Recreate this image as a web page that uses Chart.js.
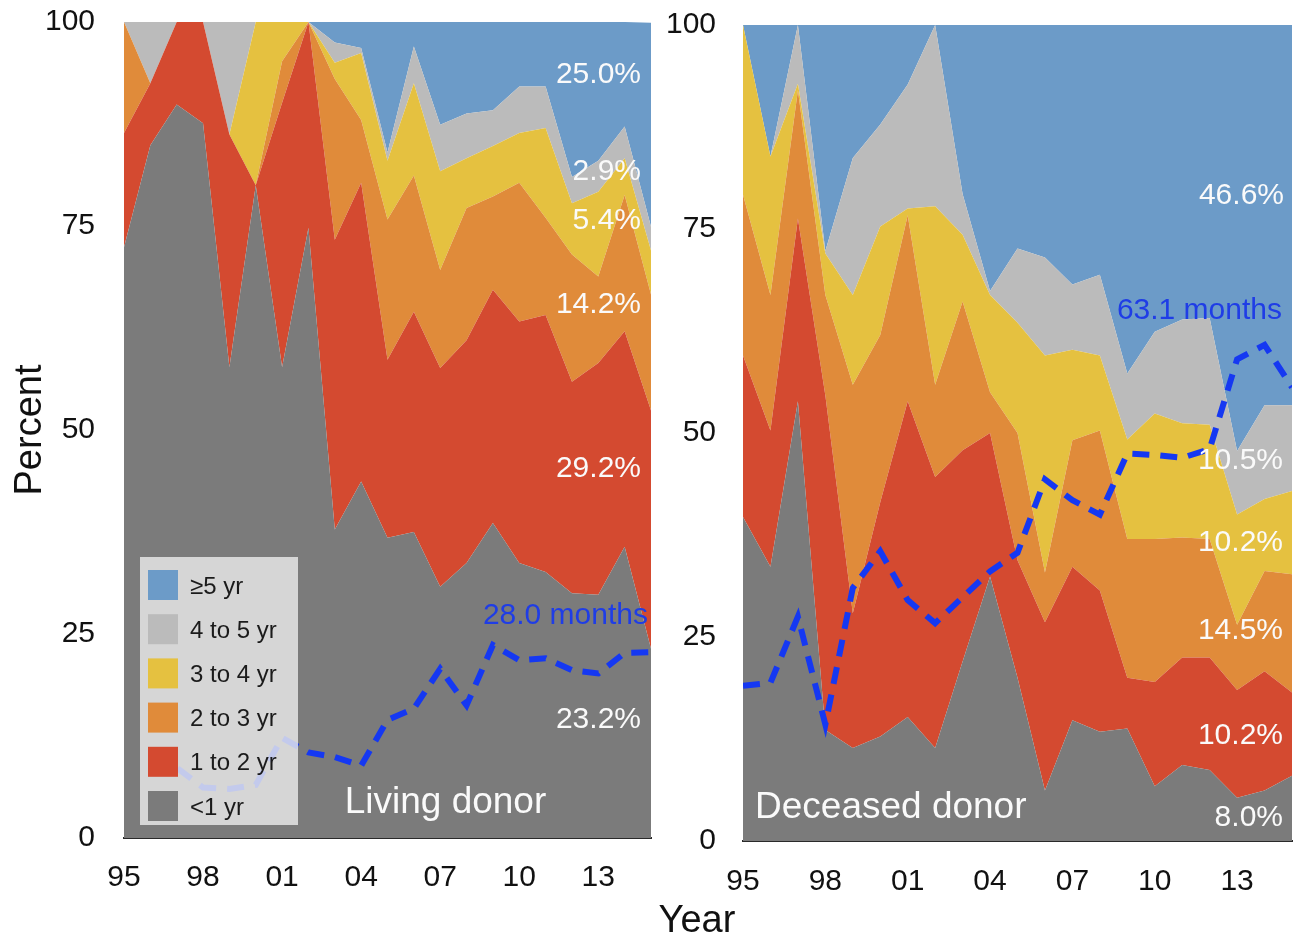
<!DOCTYPE html>
<html>
<head>
<meta charset="utf-8">
<title>Time on waiting list — living and deceased donor</title>
<script src="https://cdn.jsdelivr.net/npm/chart.js@4.4.1/dist/chart.umd.min.js"></script>
<style>
  html, body { margin: 0; padding: 0; background: #fff; }
  body { width: 1297px; height: 945px; position: relative; overflow: hidden;
         font-family: "Liberation Sans", Arial, sans-serif; }
  .panel { position: absolute; top: 0; height: 945px; }
  #leftPanel { left: 0; width: 655px; }
  #rightPanel { left: 655px; width: 642px; }
  #yearTitle { position: absolute; left: 597px; width: 200px; top: 900px; text-align: center;
               font-size: 38px; line-height: 38px; color: #111; }
</style>
</head>
<body>
<div class="panel" id="leftPanel"><canvas id="living" width="655" height="945"></canvas></div>
<div class="panel" id="rightPanel"><canvas id="deceased" width="642" height="945"></canvas></div>
<div id="yearTitle">Year</div>

<script>
// ---- data -------------------------------------------------------------
const years = [1995, 1996, 1997, 1998, 1999, 2000, 2001, 2002, 2003, 2004, 2005,
               2006, 2007, 2008, 2009, 2010, 2011, 2012, 2013, 2014, 2015];
const tickYears  = [1995, 1998, 2001, 2004, 2007, 2010, 2013];
const tickLabels = ['95', '98', '01', '04', '07', '10', '13'];
const yTicks = [0, 25, 50, 75, 100];
const durationLabels = ['<1 yr', '1 to 2 yr', '2 to 3 yr', '3 to 4 yr', '4 to 5 yr', '\u22655 yr'];

// Living donor: percent of patients by time on list
const livingLt1   = [72.4, 84.9, 89.9, 87.6, 57.7, 80.0, 57.7, 74.8, 37.8, 43.7, 36.8, 37.5, 30.8, 33.7, 38.6, 33.7, 32.6, 30.0, 29.8, 35.7, 23.2];
const living1to2  = [14.0, 7.6, 10.1, 12.4, 28.5, 0.0, 32.4, 25.2, 35.5, 36.6, 21.8, 27.0, 26.8, 27.3, 28.6, 29.6, 31.5, 25.9, 28.4, 26.4, 29.2];
const living2to3  = [13.6, 0.0, 0.0, 0.0, 0.0, 0.0, 5.1, 0.0, 19.7, 7.7, 17.2, 16.7, 12.0, 16.2, 11.4, 17.0, 11.9, 15.6, 10.6, 16.7, 14.2];
const living3to4  = [0.0, 0.0, 0.0, 0.0, 0.0, 20.0, 4.8, 0.0, 2.0, 8.2, 7.2, 11.3, 12.1, 6.1, 6.2, 6.1, 11.0, 6.3, 10.4, 4.5, 5.4];
const living4to5  = [0.0, 7.5, 0.0, 0.0, 13.8, 0.0, 0.0, 0.0, 2.5, 0.6, 1.0, 4.5, 5.7, 5.5, 4.4, 5.7, 5.1, 3.2, 3.8, 3.9, 2.9];
const living5plus = [0.0, 0.0, 0.0, 0.0, 0.0, 0.0, 0.0, 0.0, 2.5, 3.2, 16.0, 3.0, 12.6, 11.2, 10.8, 7.9, 7.9, 19.0, 17.0, 12.8, 25.0];
// Living donor: median time on list, months
const livingMonths = [null, 11.4, 10.6, 7.6, 7.4, 8.0, 15.1, 12.9, 12.2, 10.9, 17.8, 19.5, 25.5, 20.0, 29.1, 26.8, 27.1, 25.3, 24.8, 27.9, 28.0];

// Deceased donor: percent of patients by time on list
const deceasedLt1   = [39.7, 33.6, 53.9, 13.6, 11.4, 12.8, 15.2, 11.4, 22.0, 32.4, 20.0, 6.2, 14.8, 13.4, 13.8, 6.7, 9.3, 8.7, 5.3, 6.2, 8.0];
const deceased1to2  = [19.8, 16.7, 22.4, 41.0, 16.5, 28.7, 38.7, 33.2, 25.9, 17.6, 14.4, 20.6, 18.8, 17.3, 6.2, 12.8, 13.2, 13.8, 13.2, 14.6, 10.2];
const deceased2to3  = [19.7, 16.6, 15.7, 12.3, 28.0, 20.5, 22.8, 11.3, 18.2, 5.0, 15.6, 6.1, 15.5, 19.6, 17.0, 17.5, 14.7, 14.5, 8.0, 12.3, 14.5];
const deceased3to4  = [20.8, 17.0, 0.8, 5.1, 11.0, 13.3, 0.8, 21.9, 8.2, 11.9, 13.5, 26.6, 11.1, 9.2, 12.2, 15.4, 14.0, 14.0, 13.5, 8.8, 10.2];
const deceased4to5  = [0.0, 0.0, 7.2, 0.3, 16.8, 12.5, 15.2, 22.2, 5.0, 0.5, 9.1, 12.0, 8.0, 9.9, 8.1, 10.0, 12.7, 13.1, 7.8, 11.5, 10.5];
const deceased5plus = [0.0, 16.1, 0.0, 27.7, 16.3, 12.2, 7.3, 0.0, 20.7, 32.6, 27.4, 28.5, 31.8, 30.6, 42.7, 37.6, 36.1, 35.9, 52.2, 46.6, 46.6];
// Deceased donor: median time on list, months
const deceasedMonths = [21.6, 22.0, 31.2, 16.2, 35.2, 40.3, 33.5, 30.3, 33.9, 37.5, 40.1, 50.3, 47.4, 45.4, 53.9, 53.7, 53.3, 54.5, 67.0, 69.0, 63.1];

// ---- styling ----------------------------------------------------------
const FONT = '"Liberation Sans", Arial, sans-serif';
const bandColors = ['#7b7b7b', '#d44a30', '#e08b3a', '#e5c140', '#bbbbbb', '#6c9bc8'];
const lineColor = '#1538f2';
const monthsTextColor = '#1f3de6';

const last = arr => arr[arr.length - 1];
const pct = arr => last(arr).toFixed(1) + '%';

// Text overlays and the in-plot legend
const panelText = {
  id: 'panelText',
  afterDatasetsDraw(chart, args, opts) {
    const { ctx, chartArea, scales } = chart;
    ctx.save();
    for (const t of opts.items || []) {
      ctx.font = `${t.size}px ${FONT}`;
      ctx.fillStyle = t.color;
      ctx.textAlign = t.align;
      ctx.textBaseline = 'alphabetic';
      let x;
      if (t.xValue !== undefined) x = scales.x.getPixelForValue(t.xValue);
      else if (t.align === 'right') x = chartArea.right - t.inset;
      else x = chartArea.left + t.inset;
      const y = scales.y.getPixelForValue(t.at) + 0.358 * t.size;
      ctx.fillText(t.text, x, y);
    }
    const lg = opts.legend;
    if (lg) {
      const left = chartArea.left + lg.left;
      const top = chartArea.bottom - lg.up;
      ctx.fillStyle = 'rgba(234,234,234,0.82)';
      ctx.fillRect(left, top, lg.width, lg.height);
      const bands = chart.data.datasets.filter(d => d.fill !== false).slice().reverse();
      ctx.font = `24px ${FONT}`;
      ctx.textAlign = 'left';
      ctx.textBaseline = 'alphabetic';
      bands.forEach((d, i) => {
        const sy = top + 13 + i * 44.2;
        ctx.fillStyle = d.backgroundColor;
        ctx.fillRect(left + 8, sy, 30, 30);
        ctx.fillStyle = '#1b1b1b';
        ctx.fillText(d.label, left + 50, sy + 15 + 8.6);
      });
    }
    ctx.restore();
  }
};

function makePanel(canvasId, bands, months, cfg) {
  const datasets = bands.map((values, i) => ({
    label: durationLabels[i],
    data: values,
    backgroundColor: bandColors[i],
    borderColor: 'rgba(0,0,0,0)',
    borderWidth: 0,
    pointRadius: 0,
    pointHoverRadius: 0,
    tension: 0,
    fill: i === 0 ? 'origin' : '-1',
    yAxisID: 'y'
  }));
  datasets.push({
    label: 'Median months',
    data: months,
    borderColor: lineColor,
    borderWidth: 6,
    borderDash: [17, 11],
    borderCapStyle: 'butt',
    pointRadius: 0,
    pointHoverRadius: 0,
    tension: 0,
    fill: false,
    yAxisID: 'y2',
    order: -1
  });

  return new Chart(document.getElementById(canvasId), {
    type: 'line',
    data: { labels: years, datasets },
    options: {
      responsive: false,
      animation: false,
      devicePixelRatio: 1,
      layout: { padding: cfg.padding },
      plugins: {
        legend: { display: false },
        tooltip: { enabled: false },
        panelText: { items: cfg.items, legend: cfg.legend }
      },
      scales: {
        x: {
          type: 'linear',
          min: 1995, max: 2015,
          grid: { display: false, drawTicks: false },
          border: { display: true, color: '#2a2a2a', width: 2 },
          afterBuildTicks: axis => { axis.ticks = tickYears.map(v => ({ value: v })); },
          afterFit: s => { s.height = 60; s.paddingLeft = 0; s.paddingRight = 0; },
          ticks: {
            autoSkip: false, maxRotation: 0, padding: cfg.xTickPad,
            color: '#111', font: { family: FONT, size: 30 },
            callback: v => tickLabels[tickYears.indexOf(v)]
          }
        },
        y: {
          stacked: true,
          min: 0, max: 100,
          grid: { display: false, drawTicks: false },
          border: { display: false },
          afterBuildTicks: axis => { axis.ticks = yTicks.map(v => ({ value: v })); },
          afterFit: s => { s.width = cfg.yWidth; s.paddingTop = 0; s.paddingBottom = 0; },
          ticks: { padding: cfg.yTickPad, color: '#111', font: { family: FONT, size: 30 } },
          title: cfg.yTitle
        },
        y2: {
          display: false,
          min: 0, max: cfg.monthsMax
        }
      }
    },
    plugins: [panelText]
  });
}

const white = '#fafafa';

makePanel('living',
  [livingLt1, living1to2, living2to3, living3to4, living4to5, living5plus],
  livingMonths,
  {
    padding: { left: 0, right: 4, top: 22, bottom: 47 },
    yWidth: 124, yTickPad: 29, xTickPad: 22, monthsMax: 123,
    yTitle: { display: true, text: 'Percent', color: '#111',
              font: { family: FONT, size: 38 }, padding: { top: 8, bottom: 0 } },
    items: [
      { text: pct(living5plus), at: 93.9, align: 'right', inset: 10, size: 30, color: white },
      { text: pct(living4to5),  at: 81.9, align: 'right', inset: 10, size: 30, color: white },
      { text: pct(living3to4),  at: 76.0, align: 'right', inset: 10, size: 30, color: white },
      { text: pct(living2to3),  at: 65.7, align: 'right', inset: 10, size: 30, color: white },
      { text: pct(living1to2),  at: 45.6, align: 'right', inset: 10, size: 30, color: white },
      { text: pct(livingLt1),   at: 14.8, align: 'right', inset: 10, size: 30, color: white },
      { text: last(livingMonths).toFixed(1) + ' months', at: 27.6, align: 'right', inset: 3, size: 30, color: monthsTextColor },
      { text: 'Living donor', at: 4.7, align: 'center', xValue: 2007.2, size: 37, color: white }
    ],
    legend: { left: 16, up: 281, width: 158, height: 268 }
  });

makePanel('deceased',
  [deceasedLt1, deceased1to2, deceased2to3, deceased3to4, deceased4to5, deceased5plus],
  deceasedMonths,
  {
    padding: { left: 0, right: 5, top: 25, bottom: 44 },
    yWidth: 88, yTickPad: 27, xTickPad: 23, monthsMax: 113.5,
    yTitle: { display: false },
    items: [
      { text: pct(deceased5plus), at: 79.4, align: 'right', inset: 8, size: 30, color: white },
      { text: last(deceasedMonths).toFixed(1) + ' months', at: 65.3, align: 'right', inset: 10, size: 30, color: monthsTextColor },
      { text: pct(deceased4to5),  at: 46.9, align: 'right', inset: 9, size: 30, color: white },
      { text: pct(deceased3to4),  at: 36.8, align: 'right', inset: 9, size: 30, color: white },
      { text: pct(deceased2to3),  at: 26.1, align: 'right', inset: 9, size: 30, color: white },
      { text: pct(deceased1to2),  at: 13.2, align: 'right', inset: 9, size: 30, color: white },
      { text: pct(deceasedLt1),   at: 3.2,  align: 'right', inset: 9, size: 30, color: white },
      { text: 'Deceased donor', at: 4.4, align: 'left', inset: 12, size: 37, color: white }
    ]
  });
</script>
</body>
</html>
